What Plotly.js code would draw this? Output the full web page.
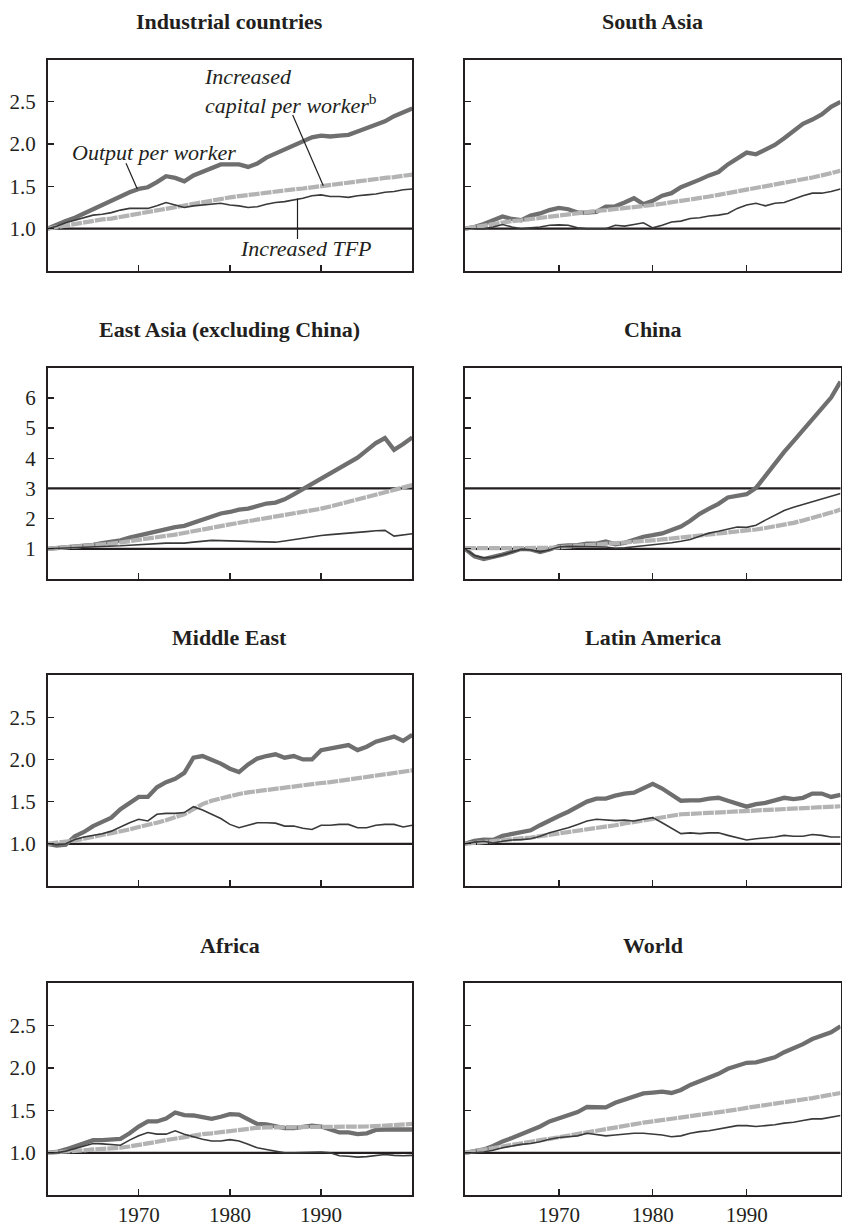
<!DOCTYPE html>
<html>
<head>
<meta charset="utf-8">
<script src="https://cdn.plot.ly/plotly-3.0.1.min.js"></script>
<style>html,body{margin:0;padding:0;background:#fff;}#chart{width:844px;height:1230px;}</style>
</head>
<body>
<div id="chart"></div>
<script>
// ---------- DATA ----------
const years = [1960,1961,1962,1963,1964,1965,1966,1967,1968,1969,1970,1971,1972,1973,1974,1975,1976,1977,1978,1979,1980,1981,1982,1983,1984,1985,1986,1987,1988,1989,1990,1991,1992,1993,1994,1995,1996,1997,1998,1999,2000];
const xTickVals = [1970, 1980, 1990];
const xTickText = ['1970', '1980', '1990'];
const yTicksLow = [1.0, 1.5, 2.0, 2.5];
const yTicksHigh = [1, 2, 3, 4, 5, 6];
const seriesNames = ['Output per worker', 'Increased capital per worker', 'Increased TFP'];
const panelTitles = ['Industrial countries', 'South Asia', 'East Asia (excluding China)', 'China', 'Middle East', 'Latin America', 'Africa', 'World'];

const industrialOutput = [1.00,1.05,1.09,1.13,1.18,1.23,1.29,1.33,1.38,1.43,1.47,1.49,1.55,1.62,1.60,1.56,1.63,1.67,1.72,1.76,1.76,1.76,1.73,1.77,1.84,1.89,1.93,1.98,2.04,2.08,2.10,2.09,2.10,2.11,2.15,2.19,2.23,2.27,2.33,2.37,2.42];
const industrialCapital = [1.00,1.02,1.04,1.05,1.07,1.09,1.11,1.12,1.14,1.16,1.18,1.20,1.22,1.24,1.26,1.28,1.30,1.32,1.34,1.355,1.37,1.385,1.40,1.41,1.425,1.44,1.45,1.465,1.475,1.49,1.50,1.515,1.53,1.54,1.555,1.57,1.585,1.60,1.61,1.625,1.64];
const industrialTFP = [1.00,1.03,1.07,1.10,1.13,1.16,1.17,1.19,1.22,1.24,1.24,1.24,1.27,1.31,1.28,1.25,1.27,1.28,1.29,1.30,1.28,1.27,1.25,1.26,1.29,1.31,1.32,1.34,1.36,1.39,1.40,1.38,1.38,1.37,1.39,1.40,1.41,1.43,1.44,1.46,1.47];

const southAsiaOutput = [1.00,1.02,1.055,1.095,1.145,1.115,1.10,1.155,1.18,1.22,1.245,1.23,1.19,1.19,1.20,1.26,1.265,1.31,1.36,1.29,1.33,1.39,1.42,1.49,1.53,1.58,1.63,1.67,1.76,1.83,1.90,1.88,1.93,1.99,2.07,2.16,2.24,2.29,2.35,2.44,2.50];
const southAsiaCapital = [1.00,1.02,1.035,1.05,1.07,1.09,1.10,1.115,1.13,1.14,1.155,1.17,1.18,1.195,1.21,1.22,1.23,1.245,1.255,1.27,1.28,1.295,1.31,1.325,1.34,1.36,1.38,1.40,1.42,1.44,1.46,1.48,1.50,1.515,1.535,1.555,1.58,1.605,1.63,1.655,1.685];
const southAsiaTFP = [1.00,1.00,1.00,1.02,1.05,1.02,1.00,1.01,1.02,1.04,1.045,1.04,1.01,1.00,1.00,1.00,1.04,1.03,1.05,1.07,1.01,1.04,1.08,1.09,1.12,1.13,1.15,1.16,1.18,1.24,1.28,1.30,1.27,1.30,1.31,1.35,1.39,1.42,1.42,1.44,1.47];

const eastAsiaOutput = [1.00,1.02,1.05,1.08,1.11,1.13,1.19,1.23,1.28,1.37,1.44,1.50,1.58,1.67,1.72,1.76,1.87,1.98,2.08,2.17,2.22,2.30,2.33,2.42,2.50,2.53,2.64,2.80,2.97,3.13,3.31,3.50,3.68,3.83,4.02,4.26,4.50,4.67,4.28,4.47,4.69];
const eastAsiaCapital = [1.00,1.02,1.04,1.06,1.08,1.11,1.14,1.17,1.21,1.26,1.31,1.35,1.39,1.43,1.47,1.52,1.57,1.63,1.69,1.75,1.81,1.86,1.91,1.96,2.01,2.06,2.11,2.16,2.21,2.27,2.33,2.40,2.48,2.56,2.64,2.72,2.80,2.88,2.96,3.04,3.11];
const eastAsiaTFP = [1.00,1.01,1.02,1.03,1.04,1.05,1.07,1.08,1.10,1.12,1.14,1.15,1.17,1.19,1.19,1.19,1.22,1.25,1.28,1.27,1.26,1.25,1.24,1.24,1.23,1.22,1.26,1.31,1.36,1.40,1.44,1.47,1.49,1.51,1.53,1.57,1.60,1.61,1.42,1.46,1.50];

const chinaOutput = [1.00,0.75,0.66,0.72,0.81,0.90,1.00,0.98,0.89,0.98,1.09,1.11,1.12,1.17,1.17,1.24,1.15,1.20,1.31,1.40,1.45,1.51,1.62,1.74,1.93,2.16,2.33,2.49,2.70,2.75,2.81,3.02,3.43,3.84,4.21,4.57,4.93,5.28,5.64,6.01,6.54];
const chinaCapital = [1.02,1.02,1.01,1.00,1.00,1.00,1.00,1.01,1.02,1.03,1.05,1.07,1.09,1.11,1.13,1.15,1.17,1.19,1.22,1.25,1.28,1.31,1.34,1.37,1.40,1.43,1.46,1.50,1.53,1.57,1.60,1.64,1.69,1.74,1.80,1.86,1.94,2.02,2.11,2.20,2.30];
const chinaTFP = [1.00,0.78,0.70,0.72,0.80,0.90,0.99,0.97,0.90,0.97,1.06,1.08,1.07,1.08,1.07,1.06,1.02,1.03,1.07,1.10,1.13,1.16,1.20,1.25,1.31,1.42,1.52,1.58,1.65,1.72,1.71,1.78,1.95,2.12,2.27,2.38,2.47,2.56,2.64,2.72,2.83];

const middleEastOutput = [1.00,0.98,0.99,1.09,1.14,1.21,1.26,1.31,1.41,1.48,1.555,1.555,1.67,1.73,1.77,1.84,2.02,2.04,2.00,1.95,1.89,1.85,1.94,2.01,2.04,2.06,2.02,2.04,2.00,2.00,2.11,2.13,2.16,2.17,2.11,2.15,2.21,2.24,2.27,2.22,2.29];
const middleEastCapital = [1.00,1.01,1.02,1.04,1.06,1.08,1.10,1.12,1.14,1.17,1.20,1.22,1.25,1.28,1.31,1.35,1.41,1.47,1.51,1.54,1.57,1.59,1.61,1.625,1.64,1.65,1.665,1.68,1.695,1.705,1.72,1.73,1.745,1.76,1.775,1.79,1.80,1.815,1.83,1.85,1.87];
const middleEastTFP = [1.00,0.99,1.00,1.05,1.08,1.10,1.12,1.15,1.20,1.25,1.29,1.27,1.35,1.36,1.36,1.37,1.44,1.40,1.35,1.30,1.23,1.19,1.22,1.25,1.25,1.245,1.21,1.21,1.185,1.17,1.22,1.22,1.23,1.23,1.19,1.19,1.22,1.23,1.23,1.20,1.22];

const latinAmericaOutput = [1.00,1.035,1.05,1.045,1.095,1.12,1.14,1.16,1.22,1.28,1.33,1.38,1.44,1.50,1.535,1.535,1.57,1.595,1.605,1.66,1.71,1.655,1.58,1.51,1.515,1.515,1.535,1.545,1.51,1.47,1.44,1.47,1.485,1.515,1.545,1.53,1.545,1.595,1.595,1.555,1.58];
const latinAmericaCapital = [1.00,1.01,1.015,1.025,1.04,1.05,1.06,1.075,1.09,1.105,1.12,1.135,1.15,1.165,1.18,1.20,1.22,1.24,1.26,1.28,1.30,1.32,1.34,1.35,1.355,1.36,1.365,1.37,1.375,1.385,1.39,1.395,1.40,1.40,1.405,1.41,1.415,1.42,1.43,1.44,1.445];
const latinAmericaTFP = [1.00,1.02,1.03,1.01,1.03,1.045,1.05,1.06,1.09,1.13,1.16,1.19,1.23,1.27,1.29,1.28,1.275,1.28,1.27,1.29,1.31,1.25,1.19,1.12,1.13,1.12,1.13,1.13,1.10,1.07,1.045,1.06,1.07,1.08,1.10,1.09,1.09,1.11,1.10,1.08,1.08];

const africaOutput = [1.00,1.01,1.04,1.08,1.12,1.15,1.15,1.16,1.165,1.23,1.31,1.37,1.37,1.405,1.475,1.445,1.44,1.42,1.40,1.425,1.455,1.45,1.395,1.34,1.335,1.31,1.29,1.29,1.31,1.32,1.31,1.28,1.24,1.24,1.22,1.23,1.27,1.275,1.275,1.28,1.275];
const africaCapital = [1.00,1.005,1.01,1.02,1.03,1.04,1.045,1.05,1.06,1.075,1.09,1.11,1.13,1.15,1.17,1.19,1.205,1.22,1.23,1.245,1.255,1.27,1.285,1.295,1.30,1.30,1.30,1.30,1.30,1.30,1.30,1.30,1.30,1.30,1.305,1.31,1.315,1.32,1.325,1.33,1.34];
const africaTFP = [1.00,1.00,1.02,1.05,1.08,1.11,1.105,1.10,1.09,1.15,1.20,1.24,1.22,1.22,1.26,1.22,1.19,1.16,1.14,1.14,1.155,1.14,1.10,1.06,1.04,1.02,1.00,1.00,1.005,1.01,1.01,1.00,0.965,0.96,0.95,0.955,0.97,0.98,0.97,0.965,0.97];

const worldOutput = [1.00,1.015,1.04,1.08,1.135,1.175,1.22,1.26,1.31,1.37,1.41,1.44,1.48,1.54,1.54,1.535,1.59,1.63,1.665,1.70,1.71,1.72,1.705,1.74,1.80,1.845,1.88,1.93,1.99,2.03,2.06,2.065,2.10,2.125,2.185,2.23,2.28,2.34,2.38,2.42,2.49];
const worldCapital = [1.00,1.02,1.035,1.05,1.07,1.09,1.11,1.13,1.15,1.165,1.185,1.205,1.225,1.245,1.26,1.28,1.30,1.32,1.335,1.355,1.37,1.385,1.40,1.41,1.425,1.44,1.455,1.475,1.49,1.51,1.53,1.545,1.56,1.575,1.59,1.61,1.63,1.645,1.665,1.685,1.705];
const worldTFP = [1.00,1.00,1.01,1.03,1.06,1.08,1.10,1.11,1.13,1.16,1.18,1.19,1.20,1.23,1.215,1.20,1.21,1.22,1.23,1.23,1.22,1.21,1.19,1.20,1.23,1.25,1.26,1.28,1.30,1.32,1.32,1.31,1.32,1.33,1.35,1.36,1.38,1.40,1.40,1.42,1.44];

// ---------- LAYOUT / STYLE ----------
const W = 844, H = 1230;
const px = v => v / W;
const py = v => 1 - v / H;
const INK = '#231f20';
const SERIF = 'Liberation Serif, Times New Roman, Times, serif';

const panels = [
  {title: panelTitles[0], out: industrialOutput, cap: industrialCapital, tfp: industrialTFP, high: false},
  {title: panelTitles[1], out: southAsiaOutput, cap: southAsiaCapital, tfp: southAsiaTFP, high: false},
  {title: panelTitles[2], out: eastAsiaOutput, cap: eastAsiaCapital, tfp: eastAsiaTFP, high: true},
  {title: panelTitles[3], out: chinaOutput, cap: chinaCapital, tfp: chinaTFP, high: true},
  {title: panelTitles[4], out: middleEastOutput, cap: middleEastCapital, tfp: middleEastTFP, high: false},
  {title: panelTitles[5], out: latinAmericaOutput, cap: latinAmericaCapital, tfp: latinAmericaTFP, high: false},
  {title: panelTitles[6], out: africaOutput, cap: africaCapital, tfp: africaTFP, high: false},
  {title: panelTitles[7], out: worldOutput, cap: worldCapital, tfp: worldTFP, high: false}
];

const colPx = [[47.5, 412.3], [465, 840.5]];
const rowPx = [[59.5, 271], [367.7, 579], [675, 886], [983, 1195.3]];

const data = [];
const layout = {
  width: W, height: H,
  margin: {l: 0, r: 0, t: 0, b: 0},
  showlegend: false,
  paper_bgcolor: '#ffffff',
  plot_bgcolor: '#ffffff',
  font: {family: SERIF, color: INK, size: 21},
  shapes: [],
  annotations: []
};

panels.forEach((p, i) => {
  const n = i === 0 ? '' : String(i + 1);
  const xid = 'x' + n, yid = 'y' + n;
  const col = i % 2, row = Math.floor(i / 2);
  const cx = colPx[col], ry = rowPx[row];

  data.push({x: years, y: p.out, xaxis: xid, yaxis: yid, type: 'scatter', mode: 'lines',
    name: seriesNames[0], line: {color: '#6f6f6f', width: 4.3}, hoverinfo: 'skip'});
  data.push({x: years, y: p.cap, xaxis: xid, yaxis: yid, type: 'scatter', mode: 'lines',
    name: seriesNames[1], line: {color: '#b3b3b3', width: 4.2, dash: '11px,1px'}, hoverinfo: 'skip'});
  data.push({x: years, y: p.tfp, xaxis: xid, yaxis: yid, type: 'scatter', mode: 'lines',
    name: seriesNames[2], line: {color: '#3a3a3a', width: 1.6}, hoverinfo: 'skip'});

  layout['xaxis' + n] = {
    domain: [px(cx[0]), px(cx[1])], anchor: yid, range: [1960, 2000],
    tickvals: xTickVals, ticktext: xTickText, showticklabels: row === 3,
    ticks: 'inside', ticklen: 6, tickwidth: 1.3, tickcolor: INK,
    showline: true, mirror: true, linecolor: INK, linewidth: 1.6,
    showgrid: false, zeroline: false, fixedrange: true,
    tickfont: {family: SERIF, size: 21, color: INK}, ticklabelstandoff: 0
  };
  layout['yaxis' + n] = {
    domain: [py(ry[1]), py(ry[0])], anchor: xid,
    range: p.high ? [0, 7] : [0.5, 3.0],
    tickvals: p.high ? yTicksHigh : yTicksLow,
    tickformat: p.high ? 'd' : '.1f',
    showticklabels: col === 0,
    ticks: 'inside', ticklen: 6, tickwidth: 1.3, tickcolor: INK,
    showline: true, mirror: true, linecolor: INK, linewidth: 1.6,
    showgrid: false, zeroline: false, fixedrange: true,
    tickfont: {family: SERIF, size: 21, color: INK}, ticklabelstandoff: 6
  };

  const refLines = p.high ? [1, 3] : [1];
  refLines.forEach(v => {
    layout.shapes.push({type: 'line', xref: xid + ' domain', yref: yid, x0: 0, x1: 1, y0: v, y1: v,
      line: {color: INK, width: 2.2}, layer: 'below'});
  });

  layout.annotations.push({
    text: '<b>' + p.title + '</b>', xref: 'paper', yref: 'paper',
    x: px((cx[0] + cx[1]) / 2), y: py(ry[0] - 38), xanchor: 'center', yanchor: 'middle',
    showarrow: false, font: {family: SERIF, size: 22, color: INK}
  });
});

// Series labels with leader lines (Industrial countries panel)
const labelFont = {family: SERIF, size: 22, color: INK};
layout.annotations.push(
  {text: '<i>Increased</i>', xref: 'paper', yref: 'paper', x: px(202), y: py(76.5), xanchor: 'left', yanchor: 'middle', showarrow: false, font: labelFont},
  {text: '<i>capital per worker</i><sup>b</sup>', xref: 'paper', yref: 'paper', x: px(203), y: py(104), xanchor: 'left', yanchor: 'middle', showarrow: false, font: labelFont},
  {text: '<i>Output per worker</i>', xref: 'paper', yref: 'paper', x: px(70), y: py(152.5), xanchor: 'left', yanchor: 'middle', showarrow: false, font: labelFont},
  {text: '<i>Increased TFP</i>', xref: 'paper', yref: 'paper', x: px(237.5), y: py(249), xanchor: 'left', yanchor: 'middle', showarrow: false, font: labelFont}
);
layout.shapes.push(
  {type: 'line', xref: 'paper', yref: 'paper', x0: px(292.7), y0: py(115), x1: px(323.3), y1: py(185.7), line: {color: INK, width: 1.2}},
  {type: 'line', xref: 'paper', yref: 'paper', x0: px(126), y0: py(163.3), x1: px(137.3), y1: py(189), line: {color: INK, width: 1.2}},
  {type: 'line', xref: 'paper', yref: 'paper', x0: px(297.5), y0: py(198.5), x1: px(297.5), y1: py(239), line: {color: INK, width: 1.2}}
);

Plotly.newPlot('chart', data, layout, {staticPlot: true, displayModeBar: false});
</script>
</body>
</html>
